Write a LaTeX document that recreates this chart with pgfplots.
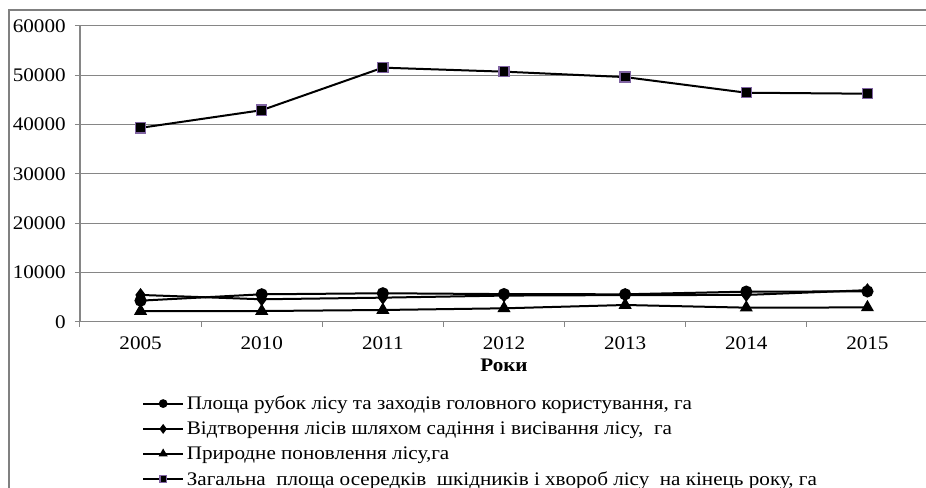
\documentclass[border=0pt]{standalone}
\usepackage{pgfplots}
\pgfplotsset{compat=1.18}
\usepackage{fontspec}
\setmainfont{Liberation Serif}[FakeStretch=1.1]
\definecolor{gridc}{RGB}{134,134,134}
\definecolor{framec}{RGB}{128,128,128}
\definecolor{mkpurple}{RGB}{128,100,162}
\begin{document}
\begin{tikzpicture}
\useasboundingbox (0,0) rectangle (694.5pt,366pt);
\draw[framec, line width=1.2pt] (6.75pt,-10pt) -- (6.75pt,358.5pt) -- (710pt,358.5pt);
\begin{axis}[
  at={(60pt,124.7pt)}, anchor=south west,
  scale only axis, width=636pt, height=222pt,
  xmin=-0.5, xmax=6.5, ymin=0, ymax=60000,
  axis lines*=left,
  xtick={-0.5,0.5,1.5,2.5,3.5,4.5,5.5,6.5}, xticklabels={},
  extra x ticks={0,1,2,3,4,5,6},
  extra x tick labels={2005,2010,2011,2012,2013,2014,2015},
  extra x tick style={major tick length=0pt, grid=none, xticklabel style={yshift=-8pt}},
  ytick={0,10000,20000,30000,40000,50000,60000},
  scaled y ticks=false,
  /pgf/number format/1000 sep={},
  /pgf/number format/assume math mode=true,
  ticklabel style={font=\fontsize{14.4}{16}\selectfont},
  yticklabel style={xshift=-3.5pt},
  tick align=outside, major tick length=3.75pt,
  ymajorgrids, grid style={gridc, line width=0.75pt},
  axis line style={gridc, line width=0.9pt},
  tick style={gridc, line width=0.75pt},
  xlabel={\textbf{Роки}},
  xlabel style={font=\fontsize{14.4}{16}\selectfont, yshift=4pt},
  legend style={at={(axis description cs:0.073,-0.24)}, anchor=north west, draw=none, fill=none,
    font=\fontsize{14.4}{16}\selectfont, row sep=3.6pt, inner sep=0pt},
  legend cell align=left,
  legend image code/.code={\draw[mark repeat=2,mark phase=2,#1] plot coordinates {(0pt,0pt)(15pt,0pt)(30pt,0pt)};},
  legend image post style={mark size=2.5pt},
  every axis plot/.append style={line width=1.5pt, black},
]
\addplot[mark=*, mark size=3.8pt, mark options={fill=black}] coordinates {
(0,4270) (1,5560) (2,5770) (3,5600) (4,5560) (5,6100) (6,6150)};
\addlegendentry{Площа рубок лісу та заходів головного користування, га}
\addplot[mark=diamond*, mark size=4pt, mark options={fill=black}] coordinates {
(0,5430) (1,4550) (2,4880) (3,5300) (4,5400) (5,5430) (6,6400)};
\addlegendentry{Відтворення лісів шляхом садіння і висівання лісу,\ \ га}
\addplot[mark=triangle*, mark size=4.2pt, mark options={fill=black}] coordinates {
(0,2170) (1,2170) (2,2380) (3,2720) (4,3390) (5,2850) (6,2900)};
\addlegendentry{Природне поновлення лісу,га}
\addplot[mark=square*, mark size=3.8pt, mark options={fill=black, draw=mkpurple, line width=1pt}] coordinates {
(0,39300) (1,42880) (2,51500) (3,50690) (4,49590) (5,46420) (6,46220)};
\addlegendentry{Загальна\ \ площа осередків\ \ шкідників і хвороб лісу\ \ на кінець року, га}
\end{axis}
\end{tikzpicture}
\end{document}
